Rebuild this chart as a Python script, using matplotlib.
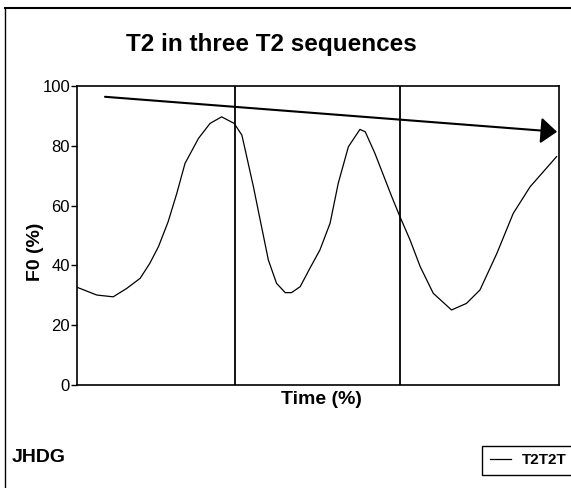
import matplotlib
matplotlib.use('Agg')
import matplotlib.pyplot as plt
from matplotlib.lines import Line2D

plt.rcParams['font.family'] = ['Liberation Sans', 'DejaVu Sans']

# Curve (time in % of the three-sequence span, F0 in %)
time_pct = [0.0, 4.1, 7.5, 10.3, 13.1, 15.1, 16.9, 18.9, 20.7, 22.4, 25.2, 27.6,
            30.0, 32.6, 34.2, 34.9, 36.6, 38.0, 39.7, 41.4, 43.2, 44.5, 46.3,
            48.3, 50.4, 52.5, 54.2, 56.3, 58.7, 59.8, 61.8, 65.3, 67.0, 69.1,
            71.2, 73.9, 77.7, 80.8, 83.6, 87.1, 90.5, 94.0, 99.5]
f0_pct = [32.7, 30.1, 29.5, 32.3, 35.7, 40.7, 46.3, 54.6, 64.1, 74.1, 82.5, 87.5,
          89.7, 87.5, 83.6, 78.6, 66.3, 55.2, 41.8, 34.0, 30.9, 30.9, 32.9,
          39.0, 45.2, 54.1, 67.5, 79.7, 85.5, 84.7, 77.5, 63.0, 56.3, 48.5,
          39.6, 30.7, 25.1, 27.3, 31.8, 44.0, 57.4, 66.3, 76.4]

# sequence boundaries and the declination arrow
boundaries = [32.7, 67.0]
arrow_start = (5.8, 96.4)
arrow_end = (99.6, 84.7)

yticks = [0, 20, 40, 60, 80, 100]
series_label = 'T2T2T'

fig = plt.figure(figsize=(5.71, 4.88), dpi=100)
ax = fig.add_axes([0.1349, 0.211, 0.8441, 0.6127])

line, = ax.plot(time_pct, f0_pct, color='black', lw=0.9)
for b in boundaries:
    ax.axvline(b, color='black', lw=1.3)

ax.annotate('', xy=arrow_end, xytext=arrow_start,
            arrowprops=dict(arrowstyle='-|>,head_length=0.5,head_width=0.4',
                            mutation_scale=20, color='black', lw=1.5,
                            shrinkA=0, shrinkB=0))

ax.set_xlim(0, 100)
ax.set_ylim(0, 100)
ax.set_xticks([])
ax.set_yticks(yticks)
ax.tick_params(axis='y', direction='out', length=4, width=1, labelsize=12, pad=1)
for s in ax.spines.values():
    s.set_linewidth(1.2)

# texts
fig.text(271.5 / 571, 1 - 45 / 488, 'T2 in three T2 sequences', ha='center', va='center',
         fontsize=17.5, fontweight='bold')
fig.text(321 / 571, 1 - 400 / 488, 'Time (%)', ha='center', va='center',
         fontsize=14, fontweight='bold')
fig.text(35 / 571, 1 - 252 / 488, 'F0 (%)', ha='center', va='center', rotation=90,
         fontsize=14, fontweight='bold')
fig.text(12 / 571, 1 - 457 / 488, 'JHDG', ha='left', va='center',
         fontsize=14, fontweight='bold')

# outer chart frame (top and left edges visible)
fig.add_artist(Line2D([5 / 571, 5 / 571], [0, 1 - 7.5 / 488], color='black', lw=1,
                      transform=fig.transFigure))
fig.add_artist(Line2D([5 / 571, 1], [1 - 7.5 / 488, 1 - 7.5 / 488], color='black', lw=1.5,
                      transform=fig.transFigure))

leg = fig.legend([line], [series_label], loc='upper left',
                 bbox_to_anchor=(482 / 571, 1 - 445.5 / 488), fontsize=11,
                 prop={'weight': 'bold', 'size': 11},
                 frameon=True, fancybox=False, edgecolor='black', framealpha=1,
                 handlelength=1.4, handletextpad=0.7, borderpad=0.5, borderaxespad=0)
leg.get_frame().set_linewidth(1)

fig.savefig('out.png', dpi=100)
